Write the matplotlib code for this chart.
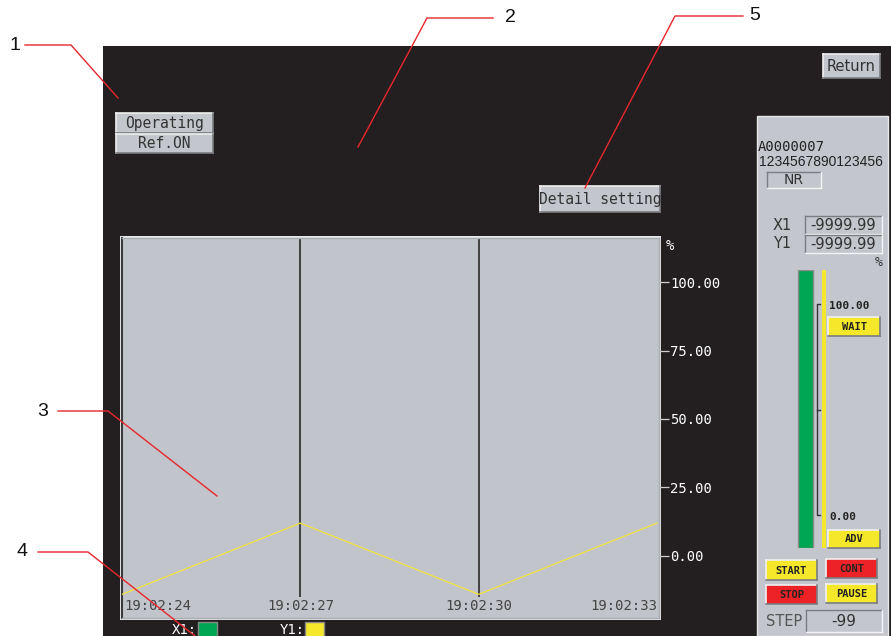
import matplotlib
matplotlib.use("Agg")
import matplotlib.pyplot as plt
from matplotlib.patches import Rectangle
from matplotlib.lines import Line2D

# ---------------- data ----------------
time_labels = ["19:02:24", "19:02:27", "19:02:30", "19:02:33"]
time_sec = [0, 3, 6, 9]
y1_values = [-14.0, 12.0, -14.0, 12.0]
y_ticks = [0, 25, 50, 75, 100]
y_tick_labels = ["0.00", "25.00", "50.00", "75.00", "100.00"]
indicator_names = ["X1", "Y1"]
indicator_levels = [1.0, 1.0]

W, H = 891, 636
MONO = ["DejaVu Sans Mono"]
fig = plt.figure(figsize=(W / 100, H / 100), dpi=100)
fig.patch.set_facecolor("white")

def fr(x0, y0, x1, y1):
    return [x0 / W, 1 - y1 / H, (x1 - x0) / W, (y1 - y0) / H]

bg = fig.add_axes([0, 0, 1, 1], zorder=0)
bg.set_xlim(0, W)
bg.set_ylim(H, 0)
bg.axis("off")

DARK = "#231f20"
PANEL = "#c3c6cc"

# screen
bg.add_patch(Rectangle((103, 46), W - 103, H - 46, facecolor=DARK, edgecolor="none"))

def button(x0, y0, x1, y1, text, fc="#c3c6cc", tc="#333333", size=10, weight="normal", family=MONO):
    bg.add_patch(Rectangle((x0, y0), x1 - x0, y1 - y0, facecolor=fc, edgecolor="none"))
    bg.add_line(Line2D([x0, x1], [y0, y0], color="#f0f0f0", lw=1.2))
    bg.add_line(Line2D([x0, x0], [y0, y1], color="#f0f0f0", lw=1.2))
    bg.add_line(Line2D([x0, x1], [y1, y1], color="#7a7d82", lw=1.2))
    bg.add_line(Line2D([x1, x1], [y0, y1], color="#7a7d82", lw=1.2))
    if text:
        bg.text((x0 + x1) / 2, (y0 + y1) / 2 + 0.5, text, ha="center", va="center",
                fontsize=size, color=tc, family=family, fontweight=weight)

button(116, 113, 213, 133, "Operating", size=10.5)
button(116, 134, 213, 153, "Ref.ON", size=10.5)
button(823, 54, 880, 78, "Return", size=10.5, family=["DejaVu Sans"])
button(540, 186, 660, 212, "Detail setting", size=10.5)

# right panel
bg.add_patch(Rectangle((757, 116), 131, H - 116, facecolor=PANEL, edgecolor="#e8e8e8", lw=1))
bg.text(758, 147, "A0000007", fontsize=10, color="#222", family=MONO, va="center", ha="left")
bg.text(759, 162, "1234567890123456", fontsize=10, color="#222", family=["Liberation Sans"],
        va="center", ha="left")
def box(x0, y0, x1, y1, text, size=10):
    bg.add_patch(Rectangle((x0, y0), x1 - x0, y1 - y0, facecolor=PANEL, edgecolor="none"))
    bg.add_line(Line2D([x0, x1], [y0, y0], color="#7a7d82", lw=1))
    bg.add_line(Line2D([x0, x0], [y0, y1], color="#7a7d82", lw=1))
    bg.add_line(Line2D([x0, x1], [y1, y1], color="#f4f4f4", lw=1))
    bg.add_line(Line2D([x1, x1], [y0, y1], color="#f4f4f4", lw=1))
    bg.text((x0 + x1) / 2, (y0 + y1) / 2 + 0.5, text, ha="center", va="center",
            fontsize=size, color="#333", family=["DejaVu Sans"])

box(767, 172, 821, 188, "NR", size=10)
bg.text(773, 225, "X1", fontsize=10.5, color="#333", family=["DejaVu Sans"], va="center")
bg.text(773, 243, "Y1", fontsize=10.5, color="#333", family=["DejaVu Sans"], va="center")
box(805, 216, 882, 234, "-9999.99", size=10.5)
box(805, 235, 882, 253, "-9999.99", size=10.5)
bg.text(883, 263, "%", fontsize=9.5, color="#333", family=MONO, va="center", ha="right")

# scale bracket
bg.add_line(Line2D([820, 817, 817, 820], [304, 304, 515, 515], color="#333", lw=1))
bg.add_line(Line2D([817, 820], [410, 410], color="#333", lw=1))
bg.text(829, 306, "100.00", fontsize=8, color="#222", family=MONO, fontweight="bold", va="center")
bg.text(829, 517, "0.00", fontsize=8, color="#222", family=MONO, fontweight="bold", va="center")

# indicator bars (via library axes)
ind = fig.add_axes(fr(795, 270, 829, 548), zorder=2)
ind.bar([805.5, 824], indicator_levels, width=[15, 4], color=["#00a651", "#f5e82a"],
        edgecolor=["#8a8a8a", "none"], linewidth=1, align="center")
ind.set_xlim(795, 829)
ind.set_ylim(0, 1)
ind.axis("off")
ind.patch.set_alpha(0)

YEL = "#f5e82a"
RED = "#ec2227"
button(828, 317, 880, 336, "WAIT", fc=YEL, tc="#222", size=7.5, weight="bold")
button(828, 530, 880, 548, "ADV", fc=YEL, tc="#222", size=7.5, weight="bold")
button(766, 560, 817, 580, "START", fc=YEL, tc="#222", size=7.5, weight="bold")
button(826, 559, 877, 578, "CONT", fc=RED, tc="#222", size=7.5, weight="bold")
button(766, 585, 817, 604, "STOP", fc=RED, tc="#222", size=7.5, weight="bold")
button(826, 584, 877, 603, "PAUSE", fc=YEL, tc="#222", size=7.5, weight="bold")
bg.text(766, 621, "STEP", fontsize=10.5, color="#555", family=["DejaVu Sans"], va="center")
box(806, 610, 882, 632, "-99", size=11)

# chart frame border
bg.add_patch(Rectangle((120, 236), 541, 384, facecolor="#e4e6ea", edgecolor="none"))

# ---------------- chart ----------------
ax = fig.add_axes(fr(122, 238, 659, 618), zorder=3)
ax.set_facecolor("#c1c4ca")
ax.set_xlim(0, 9.034)
ax.set_ylim(-22.63, 116.06)
ax.plot(time_sec, y1_values, color="#f0e43a", lw=0.9, zorder=3)
ax.vlines(time_sec[1:3], -15.0, 116.06, color="#2b2b2b", lw=1.2, zorder=2)
for s in ["top", "bottom", "right"]:
    ax.spines[s].set_color("#a8abb0")
    ax.spines[s].set_linewidth(1)
ax.spines["left"].set_color("#3a3a3a")
ax.spines["left"].set_linewidth(1.5)
ax.set_xticks([])
ax.yaxis.tick_right()
ax.set_yticks(y_ticks)
ax.set_yticklabels(y_tick_labels, family=MONO)
ax.tick_params(axis="y", colors="#cfcfcf", labelcolor="white", labelsize=10,
               length=7, width=0.9, pad=1, direction="out")

aligns = ["left", "center", "center", "right"]
for t, lab, ha in zip(time_sec, time_labels, aligns):
    xx = t + (0.04 if ha == "left" else 0)
    ax.text(xx, -18.4, lab, ha=ha, va="center", fontsize=10, color="#444444",
            family=MONO, zorder=4)

bg.text(666, 246, "%", fontsize=10, color="white", family=MONO, va="center", ha="left")

# legend below chart
bg.text(172, 630, "X1:", fontsize=10, color="white", family=MONO, va="center")
bg.add_patch(Rectangle((198, 622), 19, 16, facecolor="#00a651", edgecolor="#888", lw=1))
bg.text(280, 630, "Y1:", fontsize=10, color="white", family=MONO, va="center")
bg.add_patch(Rectangle((305, 622), 19, 16, facecolor=YEL, edgecolor="#888", lw=1))

# ---------------- callouts ----------------
top = fig.add_axes([0, 0, 1, 1], zorder=10)
top.set_xlim(0, W)
top.set_ylim(H, 0)
top.axis("off")
top.patch.set_alpha(0)
RL = "#e8262d"
callouts = [
    ("1", (15, 45), [(25, 45), (71, 45), (118, 98)]),
    ("2", (510, 17), [(493, 18), (427, 18), (358, 147)]),
    ("5", (755, 16), [(743, 16), (675, 16), (585, 188)]),
    ("3", (43, 411), [(58, 411), (108, 411), (217, 496)]),
    ("4", (22, 552), [(38, 552), (88, 552), (195, 636)]),
]
for lab, (tx, ty), pts in callouts:
    top.add_line(Line2D([p[0] for p in pts], [p[1] for p in pts], color=RL, lw=1))
    top.text(tx, ty, lab, fontsize=14, color="#111", ha="center", va="center",
             family=["Liberation Sans"])

fig.savefig("out.png", dpi=100, facecolor="white")
